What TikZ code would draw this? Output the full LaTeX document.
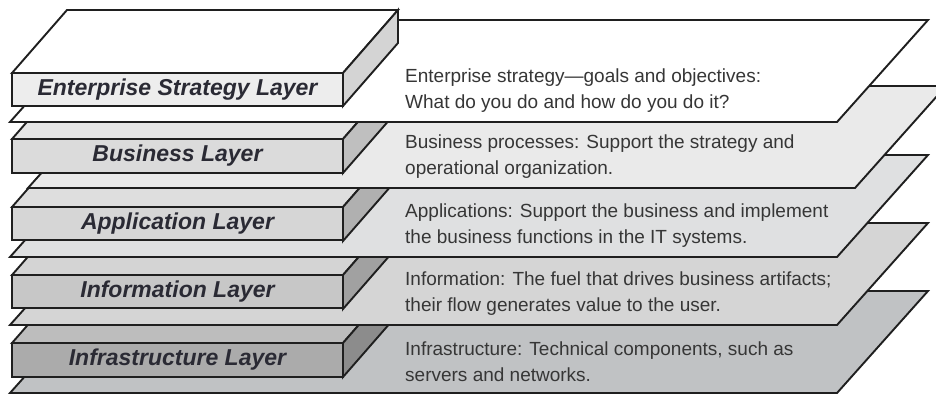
\documentclass[tikz,border=0pt]{standalone}
\usepackage{fontspec}
\setmainfont{Liberation Sans}
\definecolor{plateA}{HTML}{FFFFFF}
\definecolor{plateB}{HTML}{EAEAEA}
\definecolor{plateC}{HTML}{DFE0E1}
\definecolor{plateD}{HTML}{D5D5D5}
\definecolor{plateE}{HTML}{C0C2C4}
\definecolor{inktext}{HTML}{363636}
\definecolor{inklabel}{HTML}{2A2A34}

\begin{document}
\begin{tikzpicture}[x=1pt,y=-1pt,
	edge/.style={draw=black!88, line width=1.9pt, line join=miter},
	layerlabel/.style={font=\fontsize{23}{27}\selectfont\bfseries\itshape, text=inklabel, inner sep=0pt},
	layertext/.style={font=\fontsize{19}{26}\selectfont, text=inktext, align=left, anchor=west, inner sep=0pt}]
		\useasboundingbox (0,0) rectangle (936,396);
		\clip (0,0) rectangle (936,396);

		% infrastructure
		\draw[edge, fill=plateE] (10,393) -- ++(827,0) -- ++(91,-102) -- ++(-827,0) -- cycle;
		\draw[edge, fill=black!26] (12,343) -- ++(55,-63) -- ++(331,0) -- ++(-55,63) -- cycle;
		\draw[edge, fill=black!45] (343,343) -- ++(55,-63) -- ++(0,34) -- ++(-55,63) -- cycle;
		\draw[edge, fill=black!33] (12,343) rectangle (343,377);

		% information
		\draw[edge, fill=plateD] (10,325) -- ++(827,0) -- ++(91,-102) -- ++(-827,0) -- cycle;
		\draw[edge, fill=black!17] (12,275) -- ++(55,-63) -- ++(331,0) -- ++(-55,63) -- cycle;
		\draw[edge, fill=black!37] (343,275) -- ++(55,-63) -- ++(0,34) -- ++(-55,63) -- cycle;
		\draw[edge, fill=black!22] (12,275) rectangle (343,308);

		% application
		\draw[edge, fill=plateC] (10,257) -- ++(827,0) -- ++(91,-102) -- ++(-827,0) -- cycle;
		\draw[edge, fill=black!13] (12,207) -- ++(55,-63) -- ++(331,0) -- ++(-55,63) -- cycle;
		\draw[edge, fill=black!31] (343,207) -- ++(55,-63) -- ++(0,34) -- ++(-55,63) -- cycle;
		\draw[edge, fill=black!16] (12,207) rectangle (343,240);

		% business
		\draw[edge, fill=plateB] (28,188) -- ++(827,0) -- ++(91,-102) -- ++(-827,0) -- cycle;
		\draw[edge, fill=black!10] (12,139) -- ++(55,-63) -- ++(331,0) -- ++(-55,63) -- cycle;
		\draw[edge, fill=black!25] (343,139) -- ++(55,-63) -- ++(0,34) -- ++(-55,63) -- cycle;
		\draw[edge, fill=black!14] (12,139) rectangle (343,173);

		% enterprise strategy
		\draw[edge, fill=plateA] (10,122) -- ++(827,0) -- ++(91,-102) -- ++(-827,0) -- cycle;
		\draw[edge, fill=white] (12,73) -- ++(55,-63) -- ++(331,0) -- ++(-55,63) -- cycle;
		\draw[edge, fill=black!17] (343,73) -- ++(55,-63) -- ++(0,33) -- ++(-55,63) -- cycle;
		\draw[edge, fill=black!7] (12,73) rectangle (343,106);

		% labels on the blocks
		\node[layerlabel] (strategy) at (177.5,89.5) {Enterprise Strategy Layer};
		\node[layerlabel] (business) at (177.5,156) {Business Layer};
		\node[layerlabel] (application) at (177.5,223.5) {Application Layer};
		\node[layerlabel] (information) at (177.5,291.5) {Information Layer};
		\node[layerlabel] (infrastructure) at (177.5,360) {Infrastructure Layer};

		% text on the plates
		\node[layertext] (strategytext) at (405,91) {Enterprise strategy—goals and objectives:\\What do you do and how do you do it?};
		\node[layertext] (businesstext) at (405,157) {Business processes: Support the strategy and\\operational organization.};
		\node[layertext] (applicationtext) at (405,226) {Applications: Support the business and implement\\the business functions in the IT systems.};
		\node[layertext] (informationtext) at (405,294) {Information: The fuel that drives business artifacts;\\their flow generates value to the user.};
		\node[layertext] (infrastructuretext) at (405,362) {Infrastructure: Technical components, such as\\servers and networks.};
		\end{tikzpicture}
\end{document}
